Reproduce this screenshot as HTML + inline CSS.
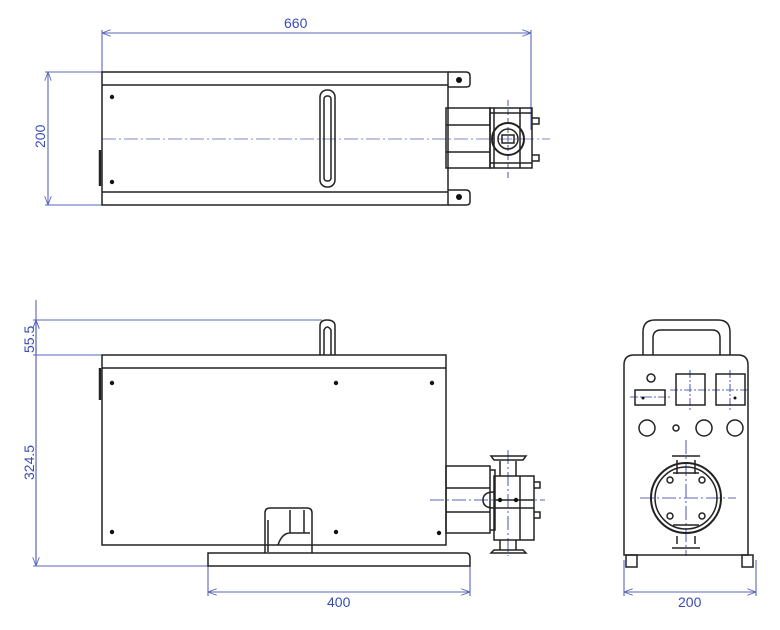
<!DOCTYPE html>
<html><head><style>body{margin:0;background:#fff}svg{display:block}text{font-family:"Liberation Sans",sans-serif;font-size:14px;fill:#3a4cb0}</style></head><body>
<svg width="780" height="630" viewBox="0 0 780 630" xmlns="http://www.w3.org/2000/svg">
<defs><marker id="a" markerWidth="8" markerHeight="6" refX="8" refY="3" orient="auto-start-reverse"><path d="M0,0L8,3L0,6" fill="none" stroke="#5a66b8" stroke-width="0.8"/></marker></defs>
<g stroke="#5a66b8" stroke-width="1.1" fill="none">
<line x1="102" y1="30" x2="102" y2="72"/><line x1="531" y1="30" x2="531" y2="130"/>
<line x1="102" y1="33" x2="531" y2="33" marker-start="url(#a)" marker-end="url(#a)"/>
<line x1="45" y1="72" x2="102" y2="72"/><line x1="45" y1="205" x2="102" y2="205"/>
<line x1="48" y1="72" x2="48" y2="205" marker-start="url(#a)" marker-end="url(#a)"/>
<line x1="33" y1="320" x2="322" y2="320"/><line x1="33" y1="355" x2="102" y2="355"/><line x1="33" y1="566" x2="208" y2="566"/>
<line x1="36" y1="300" x2="36" y2="566" marker-end="url(#a)"/>
<line x1="36" y1="355" x2="36" y2="320" marker-end="url(#a)"/>
<line x1="36" y1="320" x2="36" y2="566" marker-start="url(#a)"/>
<line x1="208" y1="566" x2="208" y2="596"/><line x1="470" y1="566" x2="470" y2="596"/>
<line x1="208" y1="592" x2="470" y2="592" marker-start="url(#a)" marker-end="url(#a)"/>
<line x1="624" y1="560" x2="624" y2="596"/><line x1="756" y1="560" x2="756" y2="596"/>
<line x1="624" y1="592" x2="756" y2="592" marker-start="url(#a)" marker-end="url(#a)"/>
<line x1="102" y1="139" x2="550" y2="139" stroke-dasharray="14 3 2 3" stroke="#8088c0"/>
<line x1="430" y1="500" x2="545" y2="500" stroke-dasharray="14 3 2 3"/>
<line x1="508" y1="450" x2="508" y2="556" stroke-dasharray="14 3 2 3"/>
<line x1="508" y1="100" x2="508" y2="178" stroke-dasharray="6 3"/>
<line x1="640" y1="498" x2="736" y2="498" stroke-dasharray="14 3 2 3"/>
<line x1="686" y1="440" x2="686" y2="556" stroke-dasharray="14 3 2 3"/>
<line x1="630" y1="397" x2="670" y2="397" stroke-dasharray="8 2 2 2"/>
<line x1="670" y1="390" x2="750" y2="390" stroke-dasharray="8 2 2 2"/>
<line x1="690" y1="370" x2="690" y2="410" stroke-dasharray="8 2 2 2"/>
<line x1="730" y1="370" x2="730" y2="410" stroke-dasharray="8 2 2 2"/>
</g>
<text x="284" y="28">660</text>
<text transform="translate(45,148) rotate(-90)">200</text>
<text transform="translate(34,353) rotate(-90)">55.5</text>
<text transform="translate(34,480) rotate(-90)">324.5</text>
<text x="327" y="607">400</text>
<text x="678" y="607">200</text>
<g stroke="#222" stroke-width="1.5" fill="none">
<rect x="102" y="72" width="346" height="133"/>
<path d="M102 85H448M102 192H448"/>
<path d="M448 72H466Q470 72 470 76V84Q470 87 466 87H448"/>
<path d="M448 190H466Q470 190 470 194V202Q470 205 466 205H448"/>
<rect x="320" y="90" width="15" height="97" rx="7"/><rect x="324" y="96" width="7" height="85" rx="3"/>
<path d="M100 150V186" stroke-width="2.5"/>
<rect x="446" y="108" width="44" height="60"/><path d="M446 125H490M446 152H490"/>
<rect x="490" y="108" width="42" height="60"/><path d="M494 108V168M520 108V168M490 113H532M490 163H532"/>
<path d="M532 118H539V124H532M532 155H539V161H532"/>
<circle cx="508" cy="139" r="16" stroke-width="2"/><circle cx="508" cy="139" r="10"/>
<rect x="502" y="135" width="12" height="8"/>
<rect x="102" y="355" width="344" height="190"/>
<path d="M102 368H446"/>
<path d="M320 355V326Q320 320 327 320Q335 320 335 326V355"/><path d="M324 355V330Q327 324 331 330V355"/>
<path d="M100 368V400" stroke-width="2.5"/>
<path d="M208 553H466Q470 553 470 558V566H208Z"/>
<path d="M265 553V513Q265 508 270 508H307Q312 508 312 513V553"/>
<path d="M268 552V520M278 545Q282 533 290 533H310M290 510V533M304 510V533"/>
<rect x="446" y="466" width="44" height="67"/><path d="M446 488H490M446 512H490M490 470H495V530H490"/>
<rect x="494" y="476" width="40" height="64"/><path d="M494 500H534M494 508H534M520 476V540"/>
<path d="M534 482H540V488H534M534 512H540V518H534"/>
<path d="M500 476V461M516 476V461M491 456H526L523 460H494Z"/>
<path d="M500 540V550M516 540V550M491 553H526L523 550H494Z"/>
<path d="M494 492Q483 492 483 500Q483 508 494 508"/>
<path d="M624 555V365Q624 355 634 355H738Q748 355 748 365V555Z"/>
<path d="M643 355V332Q643 320 655 320H718Q730 320 730 332V355"/>
<path d="M653 355V338Q653 330 661 330H712Q720 330 720 338V355"/>
<rect x="626" y="555" width="11" height="12"/><rect x="742" y="555" width="11" height="12"/>
<rect x="635" y="390" width="30" height="15"/>
<rect x="676" y="374" width="29" height="31"/><rect x="716" y="374" width="29" height="31"/>
<circle cx="651" cy="378" r="4"/>
<circle cx="647" cy="428" r="8"/><circle cx="676" cy="428" r="3"/><circle cx="704" cy="428" r="8"/><circle cx="735" cy="428" r="8"/>
<circle cx="686" cy="498" r="35" stroke-width="2"/><circle cx="686" cy="498" r="31"/>
<path d="M677 460V474M695 460V474M673 473H699M672 456H700"/>
<path d="M677 536V544M695 536V544M673 525H699M672 548H700"/>
<circle cx="670" cy="480" r="3"/><circle cx="702" cy="480" r="3"/><circle cx="670" cy="516" r="3"/><circle cx="702" cy="516" r="3"/>
</g>
<g fill="#111">
<circle cx="112" cy="97" r="2.2"/><circle cx="112" cy="182" r="2.2"/>
<circle cx="459" cy="80" r="3"/><circle cx="459" cy="197" r="3"/>
<circle cx="112" cy="383" r="2.2"/><circle cx="336" cy="383" r="2.2"/><circle cx="432" cy="383" r="2.2"/>
<circle cx="112" cy="532" r="2.2"/><circle cx="336" cy="532" r="2.2"/><circle cx="439" cy="533" r="2.2"/>
<circle cx="500" cy="500" r="2.2"/><circle cx="516" cy="500" r="2.2"/>
<circle cx="643" cy="398" r="1.5"/><circle cx="735" cy="398" r="1.5"/>
</g>
</svg>
</body></html>
